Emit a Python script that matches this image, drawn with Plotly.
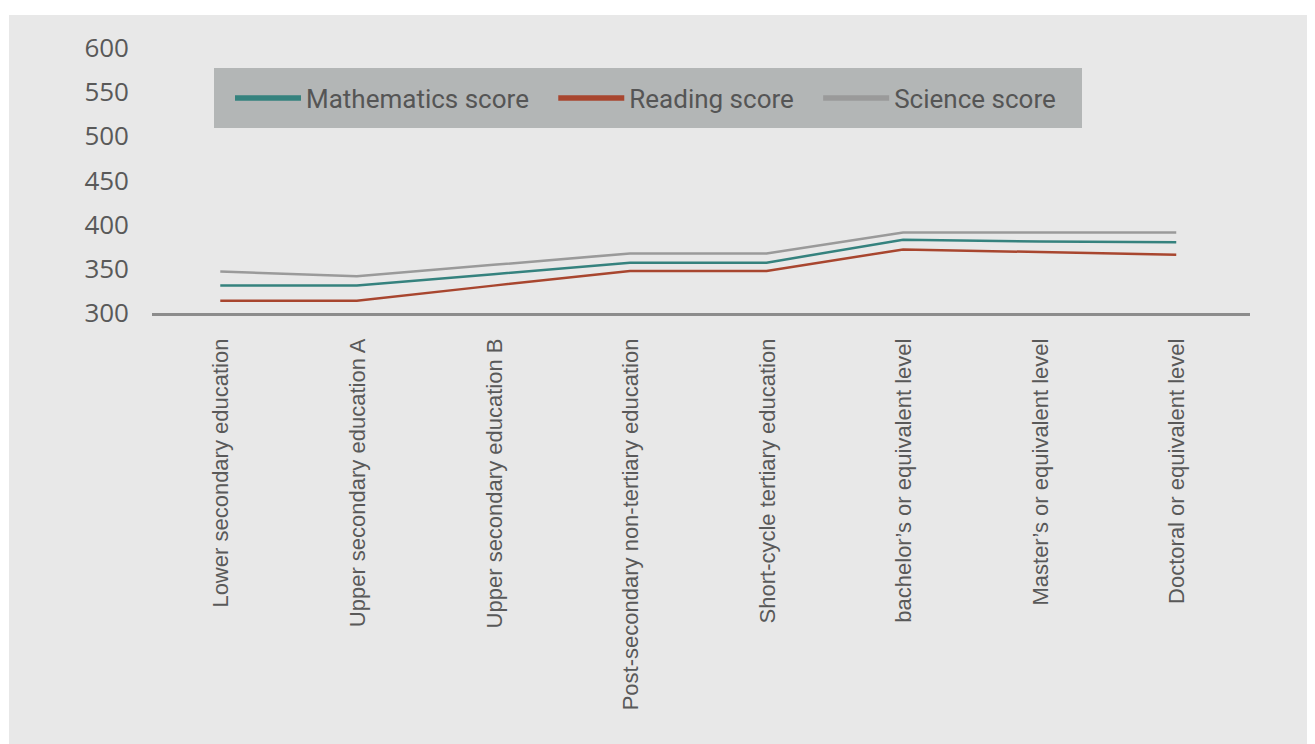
import plotly.graph_objects as go

categories = [
    "Lower secondary education",
    "Upper secondary education A",
    "Upper secondary education B",
    "Post-secondary non-tertiary education",
    "Short-cycle tertiary education",
    "bachelor\u2019s or equivalent level",
    "Master\u2019s or equivalent level",
    "Doctoral or equivalent level",
]
mathematics = [331, 331, 344, 357, 357, 383, 381, 380]
reading = [314, 314, 331, 347.5, 347.5, 372, 369, 366]
science = [347, 341.5, 354.5, 367.5, 367.5, 391, 391, 391]

series_names = ["Mathematics score", "Reading score", "Science score"]
series_values = [mathematics, reading, science]
colors = ["#35827e", "#a8462f", "#9a9a9a"]
legend_pad = ["\u00a0\u00a0\u00a0", "\u00a0\u00a0\u00a0", ""]

# page is offset by 8px body margin
OFF = 8
W, H = 1315 - OFF, 744 - OFF
L, R = 152 - OFF, 1250 - OFF
T, B = 48 - OFF, 313 - OFF

def px_x(p):
    return (p - OFF - L) / (R - L)

def px_y(p):
    return (B - (p - OFF)) / (B - T)

fig = go.Figure()
for name, vals, c in zip(series_names, series_values, colors):
    fig.add_trace(go.Scatter(x=categories, y=vals, mode="lines", name=name,
                             line=dict(color=c, width=2.5), showlegend=False,
                             hoverinfo="skip"))
# legend-only entries with thicker sample lines
for name, c, pad in zip(series_names, colors, legend_pad):
    fig.add_trace(go.Scatter(x=[None], y=[None], mode="lines", name=name + pad,
                             line=dict(color=c, width=5.5), showlegend=True))

# background panel
fig.add_shape(type="rect", xref="paper", yref="paper",
              x0=px_x(9), x1=px_x(1315), y0=px_y(744), y1=px_y(15),
              fillcolor="#e8e8e8", line=dict(width=0), layer="below")
# legend box
fig.add_shape(type="rect", xref="paper", yref="paper",
              x0=px_x(214), x1=px_x(1082), y0=px_y(128), y1=px_y(68),
              fillcolor="#b3b6b6", line=dict(width=0), layer="below")

fig.update_layout(
    width=W, height=H,
    margin=dict(l=L, r=W - R, t=T, b=H - B, pad=0),
    paper_bgcolor="white",
    plot_bgcolor="rgba(0,0,0,0)",
    showlegend=True,
    legend=dict(orientation="h", x=px_x(230), xanchor="left",
                y=px_y(98), yanchor="middle",
                bgcolor="rgba(0,0,0,0)", itemwidth=66,
                font=dict(family="Roboto", size=26, color="#555555"),
                tracegroupgap=0),
    xaxis=dict(type="category", showgrid=False, zeroline=False,
               showline=True, linecolor="#8c8c8c", linewidth=2.5,
               tickangle=-90, ticks="", ticklabelstandoff=14,
               ticklabelshift=1,
               tickfont=dict(family="Liberation Sans", size=22, color="#595959"),
               range=[-0.5, 7.54]),
    yaxis=dict(range=[300, 600], dtick=50, tick0=300, showgrid=False,
               zeroline=False, showline=False, ticks="",
               ticklabelstandoff=22,
               tickfont=dict(family="Open Sans", size=26, color="#595959")),
)

fig.write_html("out.html")
